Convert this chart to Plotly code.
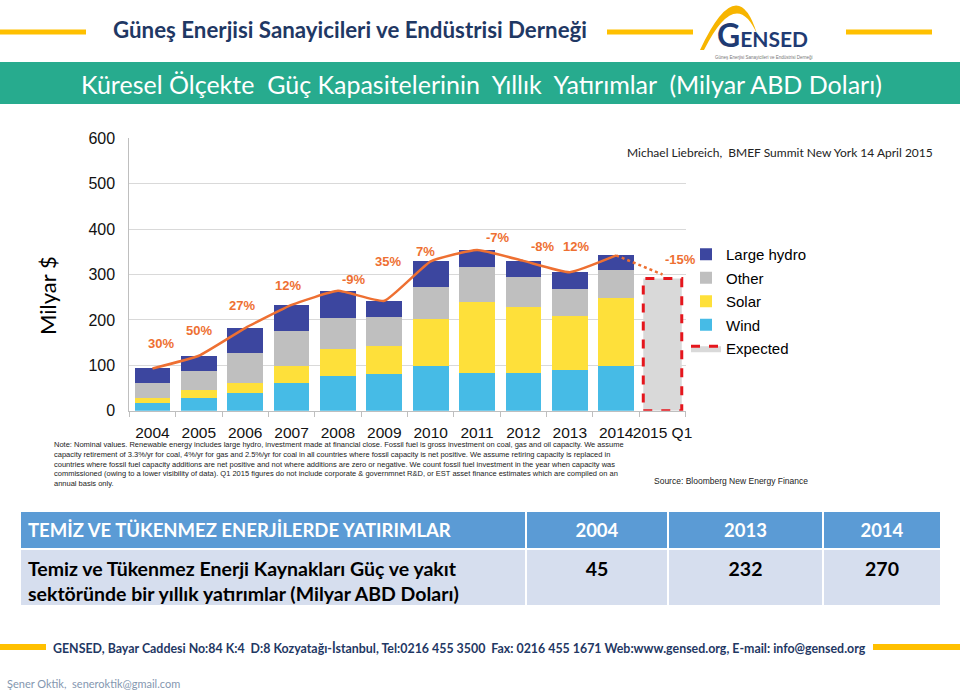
import plotly.graph_objects as go

W, H = 960, 692


def fx(x):
    return x / W


def fy(y):
    return 1 - y / H


# ---------------- data ----------------
categories = ["2004", "2005", "2006", "2007", "2008", "2009", "2010",
              "2011", "2012", "2013", "2014", "2015 Q1"]
wind = [18, 29, 40, 62, 76, 81, 99, 84, 84, 90, 99]
solar = [11, 16, 20, 37, 59, 62, 102, 155, 144, 119, 150]
other = [31, 43, 68, 77, 69, 63, 71, 78, 66, 59, 61]
hydro = [33, 33, 54, 57, 60, 36, 57, 37, 35, 37, 32]
total = [93, 121, 182, 233, 264, 242, 329, 354, 330, 305, 342]
expected_total = 291
expected_trend = [342, 300]
growth_labels = ["30%", "50%", "27%", "12%", "-9%", "35%", "7%",
                 "-7%", "-8%", "12%", "-15%"]
y_ticks = [0, 100, 200, 300, 400, 500, 600]

table_header = ["TEMİZ VE TÜKENMEZ ENERJİLERDE YATIRIMLAR", "2004", "2013", "2014"]
table_row_label = ["Temiz ve Tükenmez Enerji Kaynakları Güç ve yakıt",
                   "sektöründe bir yıllık yatırımlar (Milyar ABD Doları)"]
table_values = [45, 232, 270]

# label placement (layout, not data)
growth_label_pos = [(0.19, 147), (1.0, 176), (1.94, 231), (2.92, 275), (4.35, 288),
                    (5.09, 328), (5.88, 350), (7.46, 382), (8.42, 361), (9.14, 361),
                    (11.39, 334)]

# ---------------- styles ----------------
C_HYDRO = "#3C469F"
C_OTHER = "#BFBFBF"
C_SOLAR = "#FEE03A"
C_WIND = "#46BBE6"
C_ORANGE = "#EE7032"
C_RED = "#E5161D"
C_GOLD = "#FFC000"
C_NAVY = "#1F3864"
C_TEAL = "#27AB8E"
ARIAL = "Liberation Sans, Arial, sans-serif"
CAL = "Lato, sans-serif"

idx = list(range(len(wind)))
exp_i = len(categories) - 1
BW = 0.77
EW = 0.415

fig = go.Figure()

fig.add_trace(go.Bar(x=idx, y=wind, name="Wind", marker=dict(color=C_WIND, line=dict(width=0)),
                     width=BW, legendrank=4, legendgroup="g4"))
fig.add_trace(go.Bar(x=idx, y=solar, name="Solar", marker=dict(color=C_SOLAR, line=dict(width=0)),
                     width=BW, legendrank=3, legendgroup="g3"))
fig.add_trace(go.Bar(x=idx, y=other, name="Other", marker=dict(color=C_OTHER, line=dict(width=0)),
                     width=BW, legendrank=2, legendgroup="g2"))
fig.add_trace(go.Bar(x=idx, y=hydro, name="Large hydro", marker=dict(color=C_HYDRO, line=dict(width=0)),
                     width=BW, legendrank=1, legendgroup="g1"))

fig.add_trace(go.Scatter(
    x=[exp_i - EW, exp_i + EW, exp_i + EW, exp_i - EW, exp_i - EW],
    y=[0, 0, expected_total, expected_total, 0],
    mode="lines", fill="toself", fillcolor="#D9D9D9",
    line=dict(color=C_RED, width=3, dash="dash"),
    name="Expected", legendrank=5, legendgroup="g5", hoverinfo="skip"))

fig.add_trace(go.Scatter(x=idx, y=total, mode="lines",
                         line=dict(color=C_ORANGE, width=2.5, shape="spline", smoothing=0.4),
                         showlegend=False))
fig.add_trace(go.Scatter(x=[idx[-1], exp_i], y=expected_trend, mode="lines",
                         line=dict(color=C_ORANGE, width=2.5, dash="dot"), showlegend=False))

for lab, (lx, ly) in zip(growth_labels, growth_label_pos):
    fig.add_annotation(x=lx, y=ly, xref="x", yref="y", text="<b>%s</b>" % lab, showarrow=False,
                       xanchor="center", yanchor="middle",
                       font=dict(family=ARIAL, size=13, color=C_ORANGE))

# ---------------- table ----------------
fig.add_trace(go.Table(
    domain=dict(x=[fx(20), fx(941)], y=[fy(606), fy(511)]),
    columnwidth=[506, 142, 155, 118],
    header=dict(values=["<b>%s</b>" % h for h in table_header],
                fill_color="#5B9BD5", line=dict(color="white", width=2),
                align=["left", "center", "center", "center"],
                font=dict(family=CAL, size=18.5, color="white"), height=33),
    cells=dict(values=[["<b>" + "<br>".join(table_row_label) + "</b>"]] +
               [["<b>%d</b>" % v] for v in table_values],
               fill_color="#D6DEEE", line=dict(color="white", width=2),
               align=["left", "center", "center", "center"],
               font=dict(family=CAL, size=19.5, color="black"), height=58)))

# ---------------- layout ----------------
fig.update_layout(
    width=W, height=H, margin=dict(l=0, r=0, t=0, b=0, pad=0, autoexpand=False),
    paper_bgcolor="white", plot_bgcolor="white",
    barmode="stack", bargap=0.23,
    showlegend=True,
    legend=dict(x=fx(686), y=fy(238), xanchor="left", yanchor="top",
                font=dict(family=ARIAL, size=15, color="black"),
                traceorder="grouped", tracegroupgap=1, bgcolor="rgba(0,0,0,0)"),
    xaxis=dict(domain=[fx(129.3), fx(685.7)], range=[-0.5, len(categories) - 0.5],
               tickmode="array", tickvals=list(range(len(categories))), ticktext=categories,
               tickangle=0, ticks="", showgrid=False, zeroline=False,
               showline=True, linecolor="#BFBFBF", linewidth=1,
               tickfont=dict(family=ARIAL, size=15.5, color="#111"),
               ticklabelstandoff=8,
               minor=dict(tickmode="array", tickvals=[i - 0.5 for i in range(len(categories) + 1)],
                          ticks="outside", ticklen=5, tickcolor="#BFBFBF", showgrid=False)),
    yaxis=dict(domain=[fy(410.7), fy(138.3)], range=[0, 600], tickvals=y_ticks,
               showgrid=True, gridcolor="#D9D9D9", gridwidth=1, zeroline=False,
               showline=True, linecolor="#BFBFBF", linewidth=1, ticks="",
               tickfont=dict(family=ARIAL, size=16, color="#111"), ticklabelstandoff=10),
)

shapes = []
# header gold lines
for x0, x1 in [(0, 86), (607, 693), (846, 932)]:
    shapes.append(dict(type="line", xref="paper", yref="paper", x0=fx(x0), x1=fx(x1), y0=fy(32), y1=fy(32),
                       line=dict(color=C_GOLD, width=5)))
# teal band
shapes.append(dict(type="rect", xref="paper", yref="paper", x0=0, x1=1, y0=fy(104), y1=fy(62),
                   fillcolor=C_TEAL, line=dict(width=0), layer="below"))
# footer gold lines
for x0, x1 in [(0, 46), (873, 960)]:
    shapes.append(dict(type="line", xref="paper", yref="paper", x0=fx(x0), x1=fx(x1), y0=fy(647), y1=fy(647),
                       line=dict(color=C_GOLD, width=6)))


def ppath(cmds):
    out = []
    for c in cmds:
        if isinstance(c, str):
            out.append(c)
        else:
            out.append("%.5f,%.5f" % (fx(c[0]), fy(c[1])))
    return " ".join(out)


arc = ppath(["M", (700, 50), "Q", (737.5, -30), (757, 34), "Q", (736, -14), (704, 50), "Z"])
shapes.append(dict(type="path", xref="paper", yref="paper", path=arc, fillcolor="#F7B500",
                   line=dict(width=0)))
fig.update_layout(shapes=shapes)

ann = [
    dict(x=fx(349.5), y=fy(30), text="<b>Güneş Enerjisi Sanayicileri ve Endüstrisi Derneği</b>",
         font=dict(family=CAL, size=22.3, color=C_NAVY)),
    dict(x=fx(762), y=fy(35), text="<b><span style='font-size:32px'>G</span>ENSED</b>",
         font=dict(family=CAL, size=21, color="#1F3B73")),
    dict(x=fx(764), y=fy(57), text="Güneş Enerjisi Sanayicileri ve Endüstrisi Derneği",
         font=dict(family=ARIAL, size=4.5, color="#777")),
    dict(x=fx(481), y=fy(84), text="Küresel Ölçekte  Güç Kapasitelerinin  Yıllık  Yatırımlar  (Milyar ABD Doları)",
         font=dict(family=CAL, size=25, color="white")),
    dict(x=fx(935), y=fy(153), xanchor="right",
         text="Michael Liebreich,  BMEF Summit New York 14 April 2015",
         font=dict(family=CAL, size=12, color="#222")),
    dict(x=fx(47), y=fy(296), text="Milyar $", textangle=-90,
         font=dict(family=CAL, size=22, color="black")),
    dict(x=fx(52), y=fy(438), xanchor="left", yanchor="top", align="left",
         text=("Note: Nominal values. Renewable energy includes large hydro, investment made at financial close. Fossil fuel is gross investment on coal, gas and oil capacity. We assume<br>"
               "capacity retirement of 3.3%/yr for coal, 4%/yr for gas and 2.5%/yr for coal in all countries where fossil capacity is net positive. We assume retiring capacity is replaced in<br>"
               "countries where fossil fuel capacity additions are net positive and not where additions are zero or negative. We count fossil fuel investment in the year when capacity was<br>"
               "commissioned (owing to a lower visibility of data). Q1 2015 figures do not include corporate &amp; governmnet R&amp;D, or EST asset finance estimates which are compiled on an<br>"
               "annual basis only."),
         font=dict(family=ARIAL, size=7.5, color="#222")),
    dict(x=fx(652), y=fy(481), xanchor="left", text="Source: Bloomberg New Energy Finance",
         font=dict(family=ARIAL, size=8.5, color="#222")),
    dict(x=fx(459.5), y=fy(648),
         text="<b>GENSED, Bayar Caddesi No:84 K:4  D:8 Kozyatağı-İstanbul, Tel:0216 455 3500  Fax: 0216 455 1671 Web:www.gensed.org, E-mail: info@gensed.org</b>",
         font=dict(family=CAL, size=12.4, color=C_NAVY)),
    dict(x=fx(5), y=fy(683), xanchor="left", text="Şener Oktik,  seneroktik@gmail.com",
         font=dict(family=CAL, size=11, color="#8497B0")),
]
for a in ann:
    a.setdefault("xref", "paper")
    a.setdefault("yref", "paper")
    a.setdefault("showarrow", False)
    a.setdefault("xanchor", "center")
    a.setdefault("yanchor", "middle")
    fig.add_annotation(**a)

fig.write_html("out.html")
